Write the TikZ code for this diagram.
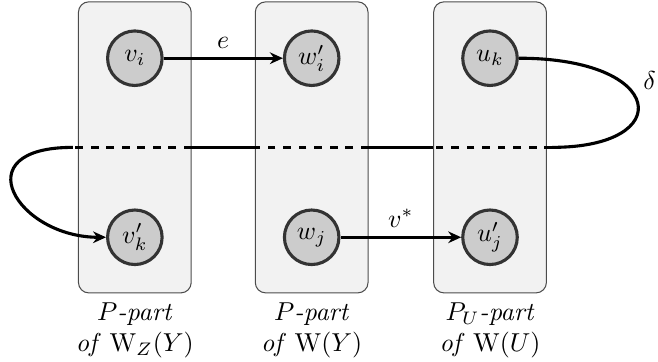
\documentclass[tikz,border=0pt]{standalone}
\usetikzlibrary{positioning,arrows.meta}

\begin{document}
\begin{tikzpicture}[part/.style={draw=black!70, fill=black!5, rounded corners=4pt, minimum width=1.53cm, minimum height=3.95cm},
    vert/.style={circle, draw=black!80, fill=black!20, very thick, minimum size=0.74cm, inner sep=0pt},
    partlbl/.style={below=0pt of #1, align=center},
    arc/.style={very thick, -{Stealth[length=5pt, width=4.5pt]}},
    cut/.style={very thick}]
        \useasboundingbox (0,0) rectangle (8.93,4.90);
        % the three parts
        \node[part] (P1) at (1.83,2.9) {};
        \node[part] (P2) at (4.23,2.9) {};
        \node[part] (P3) at (6.65,2.9) {};
        \node[partlbl=P1] (L1) {$P$\textit{-part}\\\textit{of} $\mathrm{W}_Z(Y)$};
        \node[partlbl=P2] (L2) {$P$\textit{-part}\\\textit{of} $\mathrm{W}(Y)$};
        \node[partlbl=P3] (L3) {$P_U$\textit{-part}\\\textit{of} $\mathrm{W}(U)$};
        % vertices
        \node[vert] (vi) at (1.83,4.11) {$v_i$};
        \node[vert] (wi) at (4.23,4.11) {$w'_i$};
        \node[vert] (uk) at (6.65,4.11) {$u_k$};
        \node[vert] (vk) at (1.83,1.68) {$v'_k$};
        \node[vert] (wj) at (4.23,1.68) {$w_j$};
        \node[vert] (uj) at (6.65,1.68) {$u'_j$};
        \draw[arc] (vi) -- node[above] {$e$} (wi);
        \draw[arc] (wj) -- node[above] {$v^*$} (uj);
        % delta goes through all three parts
        \coordinate (r) at ([xshift=2pt]P3.east);
        \coordinate (l) at ([xshift=-2pt]P1.west);
        \draw[cut] (uk.east) .. controls +(2,0) and +(1.7,0) .. node[pos=.33, right=5pt] {$\delta$} (r);
        \draw[cut, dashed] (r) -- (P3.west);
        \draw[cut] (P3.west) -- (P2.east);
        \draw[cut, dashed] (P2.east) -- (P2.west);
        \draw[cut] (P2.west) -- (P1.east);
        \draw[cut, dashed] (P1.east) -- (l);
        \draw[arc] (l) .. controls +(-1.5,0) and +(-1.2,0) .. (vk.west);
      \end{tikzpicture}
\end{document}
